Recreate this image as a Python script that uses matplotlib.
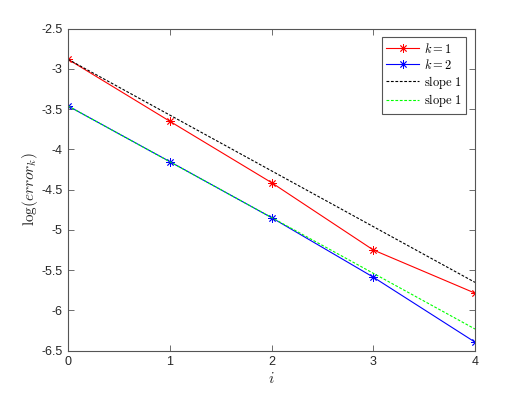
import matplotlib
matplotlib.use("Agg")
import matplotlib.pyplot as plt
from matplotlib.ticker import FuncFormatter

# data
iters = [0, 1, 2, 3, 4]
err_k1 = [-2.88, -3.65, -4.413, -5.25, -5.787]
err_k2 = [-3.46, -4.152, -4.848, -5.588, -6.396]
slope_x = [0, 4]
slope_k1 = [-2.88, -5.653]
slope_k2 = [-3.46, -6.233]

plt.rcParams["font.family"] = ["Liberation Sans", "DejaVu Sans"]
plt.rcParams["mathtext.fontset"] = "cm"

fig = plt.figure(figsize=(5.25, 3.94), dpi=100)
ax = fig.add_axes([68 / 525, 1 - 350.5 / 394, (475 - 68) / 525, (350.5 - 28.7) / 394])

star = (8, 2, 0)
ax.plot(iters, err_k1, color="red", lw=0.8, marker=star, ms=6, mew=0.6, label="$k=1$")
ax.plot(iters, err_k2, color="blue", lw=0.8, marker=star, ms=6, mew=0.6, label="$k=2$")
ax.plot(slope_x, slope_k1, color="black", lw=0.8, ls=(0, (2.5, 1.5)), label=r"$\mathrm{slope\ 1}$")
ax.plot(slope_x, slope_k2, color="#00ff00", lw=0.8, ls=(0, (2.5, 1.5)), label=r"$\mathrm{slope\ 1}$")

ax.set_xlim(0, 4)
ax.set_ylim(-6.5, -2.5)
ax.set_xticks(iters)
ax.set_yticks([-6.5, -6, -5.5, -5, -4.5, -4, -3.5, -3, -2.5])
ax.yaxis.set_major_formatter(FuncFormatter(lambda v, p: ("%g" % v).replace("\u2212", "-")))

axcol = "#555555"
for s in ax.spines.values():
    s.set_color(axcol)
    s.set_linewidth(0.8)
ax.tick_params(direction="in", length=4, width=0.6, color=axcol, labelsize=9,
               labelcolor="#262626", top=True, right=True, pad=4)

ax.set_xlabel("$i$", fontsize=11, color="#262626", labelpad=2)
ax.set_ylabel(r"$\log(error_k)$", fontsize=11, color="#262626", labelpad=1)

leg = ax.legend(loc="upper right", fontsize=9, fancybox=False, framealpha=1,
                edgecolor=axcol, handlelength=2.6, handletextpad=0.4,
                borderaxespad=0.7, labelspacing=0.15, borderpad=0.35)
leg.get_frame().set_linewidth(0.8)

fig.savefig("out.png", dpi=100)
